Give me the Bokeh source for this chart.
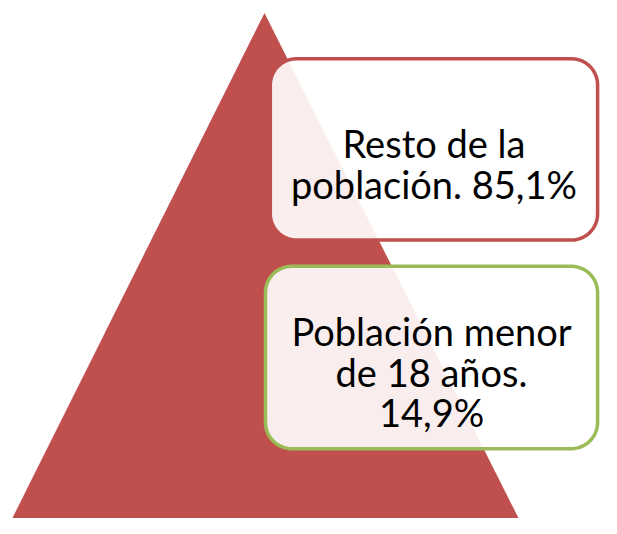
import numpy as np
from bokeh.plotting import figure
from bokeh.models import ColumnDataSource
from bokeh.core.properties import value
from bokeh.embed import file_html
from bokeh.resources import INLINE

# Data
labels = ["Resto de la población.", "Población menor de 18 años."]
shares = [85.1, 14.9]
box_lines = [["Resto de la", "población. 85,1%"],
             ["Población menor", "de 18 años.", "14,9%"]]
box_colors = ["#C0504D", "#9BBB59"]

W, H = 601, 518
p = figure(width=W, height=H, x_range=(0, 617), y_range=(534, 0),
           output_backend="svg", toolbar_location=None, min_border=0)
p.axis.visible = False
p.grid.visible = False
p.outline_line_color = None
p.background_fill_color = "white"
p.border_fill_color = "white"

# pyramid
p.patch([271, 533, 11], [13, 536, 536], fill_color="#C0504D", line_color=None)

def rounded(x0, y0, x1, y1, r, n=14):
    xs, ys = [], []
    corners = [(x1 - r, y0 + r, -np.pi / 2, 0), (x1 - r, y1 - r, 0, np.pi / 2),
               (x0 + r, y1 - r, np.pi / 2, np.pi), (x0 + r, y0 + r, np.pi, 1.5 * np.pi)]
    for cx, cy, a0, a1 in corners:
        t = np.linspace(a0, a1, n)
        xs += list(cx + r * np.cos(t))
        ys += list(cy + r * np.sin(t))
    return xs, ys

boxes = [(277, 60, 613, 247), (272, 274, 613, 462)]
for (x0, y0, x1, y1), col, lines in zip(boxes, box_colors, box_lines):
    xs, ys = rounded(x0, y0, x1, y1, 27)
    p.patch(xs, ys, fill_color="white", fill_alpha=0.9, line_color=col, line_width=3.5)
    cx = (x0 + x1) / 2
    cy = (y0 + y1) / 2
    lh = 42
    n = len(lines)
    ys_t = [cy + 14.5 + (i - (n - 1) / 2) * lh for i in range(n)]
    src = ColumnDataSource(dict(x=[cx] * n, y=ys_t, t=lines))
    p.text("x", "y", "t", source=src, text_font=value("Lato"), text_font_size="38px",
           text_align="center", text_baseline="alphabetic", text_color="black")

open("out.html", "w").write(file_html(p, INLINE))
